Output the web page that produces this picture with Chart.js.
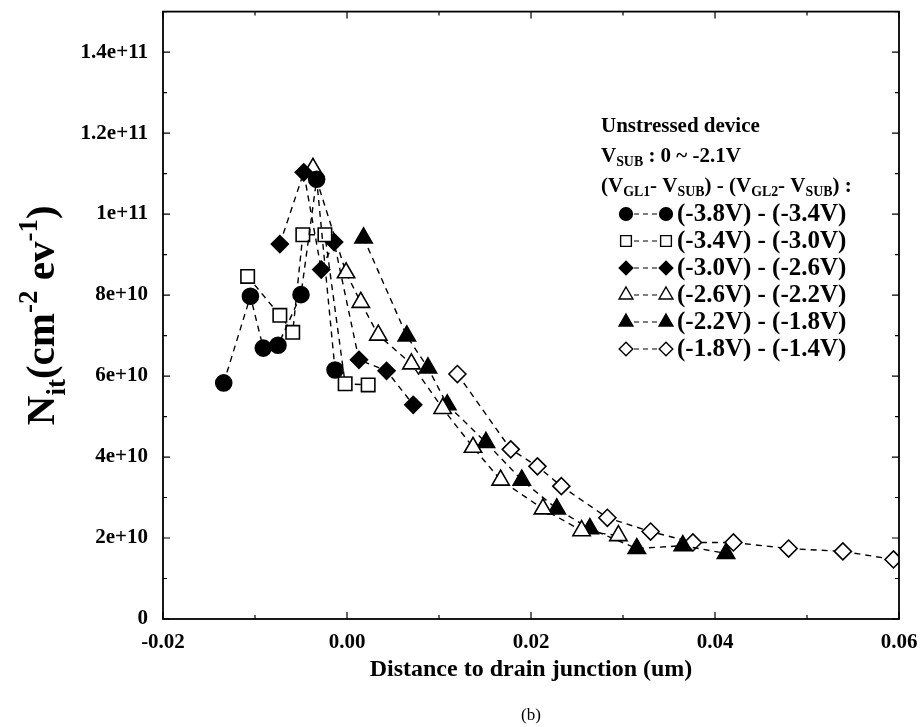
<!DOCTYPE html>
<html>
<head>
<meta charset="utf-8">
<title>Interface trap density vs distance</title>
<script src="https://cdn.jsdelivr.net/npm/chart.js@4.4.1/dist/chart.umd.min.js"></script>
<style>
  html, body { margin: 0; padding: 0; background: #fff; }
  #wrap { width: 921px; height: 727px; }
</style>
</head>
<body>
<div id="wrap"><canvas id="nitChart" width="921" height="727"></canvas></div>
<script>
// Nit profiles along the channel, one series per gate-bias pair
const SERIES_LABELS = [
  "(-3.8V) - (-3.4V)",
  "(-3.4V) - (-3.0V)",
  "(-3.0V) - (-2.6V)",
  "(-2.6V) - (-2.2V)",
  "(-2.2V) - (-1.8V)",
  "(-1.8V) - (-1.4V)",
];

const S1_X = [-0.0134, -0.0105, -0.0091, -0.0075, -0.0050, -0.0033, -0.0013];
const S1_Y = [5.83e10, 7.97e10, 6.69e10, 6.76e10, 8.01e10, 10.86e10, 6.15e10];

const S2_X = [-0.0108, -0.0073, -0.0059, -0.0048, -0.0024, -0.0002, 0.0023];
const S2_Y = [8.46e10, 7.50e10, 7.08e10, 9.49e10, 9.49e10, 5.81e10, 5.78e10];

const S3_X = [-0.0073, -0.0047, -0.0028, -0.0014, 0.0013, 0.0043, 0.0072];
const S3_Y = [9.26e10, 11.03e10, 8.63e10, 9.31e10, 6.40e10, 6.13e10, 5.29e10];

const S4_X = [-0.0037, -0.0001, 0.0015, 0.0034, 0.0070, 0.0104, 0.0137, 0.0167, 0.0213, 0.0255, 0.0295];
const S4_Y = [11.13e10, 8.55e10, 7.82e10, 7.01e10, 6.30e10, 5.20e10, 4.24e10, 3.43e10, 2.72e10, 2.18e10, 2.06e10];

const S5_X = [0.0018, 0.0065, 0.0088, 0.0109, 0.0151, 0.0190, 0.0228, 0.0264, 0.0315, 0.0365, 0.0412];
const S5_Y = [9.41e10, 6.99e10, 6.20e10, 5.29e10, 4.36e10, 3.43e10, 2.72e10, 2.23e10, 1.74e10, 1.81e10, 1.62e10];

const S6_X = [0.0120, 0.0178, 0.0207, 0.0233, 0.0283, 0.0330, 0.0376, 0.0420, 0.0480, 0.0539, 0.0594];
const S6_Y = [6.05e10, 4.19e10, 3.77e10, 3.28e10, 2.50e10, 2.16e10, 1.89e10, 1.89e10, 1.74e10, 1.67e10, 1.47e10];

const X_TICKS = [-0.02, 0, 0.02, 0.04, 0.06];
const X_TICK_LABELS = ["-0.02", "0.00", "0.02", "0.04", "0.06"];
const Y_TICKS = [0, 2e10, 4e10, 6e10, 8e10, 1e11, 1.2e11, 1.4e11];
const Y_TICK_LABELS = ["0", "2e+10", "4e+10", "6e+10", "8e+10", "1e+11", "1.2e+11", "1.4e+11"];

const SERIF = "'Liberation Serif', 'Times New Roman', serif";

// marker look for each series: [pointStyle, filled, radius]
const MARKERS = [
  ["circle", true, 8],
  ["rect", false, 9.5],
  ["rectRot", true, 8.5],
  ["triangle", false, 10],
  ["triangle", true, 10],
  ["rectRot", false, 8.5],
];

const SERIES = [[S1_X, S1_Y], [S2_X, S2_Y], [S3_X, S3_Y], [S4_X, S4_Y], [S5_X, S5_Y], [S6_X, S6_Y]];

const datasets = SERIES.map(([xs, ys], i) => {
  const [style, filled, r] = MARKERS[i];
  return {
    label: SERIES_LABELS[i],
    data: xs.map((x, k) => ({ x, y: ys[k] })),
    showLine: true,
    borderColor: "#000",
    borderWidth: 1.4,
    borderDash: [6, 5],
    pointStyle: style,
    pointRadius: r,
    pointHoverRadius: r,
    pointBackgroundColor: filled ? "#000" : "#fff",
    pointBorderColor: "#000",
    pointBorderWidth: 1.6,
  };
});

// draws text with sub/sup runs: parts = [[text, kind], ...]
function richText(ctx, parts, x, y, size, measureOnly) {
  let cx = x;
  for (const [txt, kind] of parts) {
    const s = kind ? size * 0.66 : size;
    ctx.font = `bold ${s}px ${SERIF}`;
    const dy = kind === "sub" ? size * 0.28 : kind === "sup" ? -size * 0.42 : 0;
    if (!measureOnly) ctx.fillText(txt, cx, y + dy);
    cx += ctx.measureText(txt).width;
  }
  return cx - x;
}

// no auto padding: keep the plot box at fixed pixels
function noPad(s) {
  s.paddingTop = 0;
  s.paddingBottom = 0;
  s.paddingLeft = 0;
  s.paddingRight = 0;
}

const frameAndLabels = {
  id: "frameAndLabels",
  afterDraw(chart) {
    const { ctx, chartArea: a, scales } = chart;
    const xs = scales.x, ys = scales.y;
    ctx.save();
    ctx.strokeStyle = "#000";
    ctx.fillStyle = "#000";

    // box
    ctx.lineWidth = 1.8;
    ctx.strokeRect(a.left, a.top, a.right - a.left, a.bottom - a.top);

    // inward ticks on all four sides, major at labels, minor halfway
    ctx.lineWidth = 1.2;
    ctx.beginPath();
    for (let k = 0; k <= 8; k++) {
      const px = xs.getPixelForValue(-0.02 + k * 0.01);
      const len = k % 2 === 0 ? 7 : 4;
      ctx.moveTo(px, a.bottom); ctx.lineTo(px, a.bottom - len);
      ctx.moveTo(px, a.top); ctx.lineTo(px, a.top + len);
    }
    for (let k = 0; k <= 15; k++) {
      const py = ys.getPixelForValue(k * 1e10);
      const len = k % 2 === 0 ? 7 : 4;
      ctx.moveTo(a.left, py); ctx.lineTo(a.left + len, py);
      ctx.moveTo(a.right, py); ctx.lineTo(a.right - len, py);
    }
    ctx.stroke();

    // x axis title and panel tag
    ctx.textAlign = "center";
    ctx.textBaseline = "middle";
    ctx.font = `bold 24px ${SERIF}`;
    ctx.fillText("Distance to drain junction (um)", (a.left + a.right) / 2, 670);
    ctx.font = `17px ${SERIF}`;
    ctx.fillText("(b)", (a.left + a.right) / 2, 716);

    // y axis title
    ctx.save();
    ctx.translate(54, (a.top + a.bottom) / 2);
    ctx.rotate(-Math.PI / 2);
    ctx.textAlign = "left";
    ctx.textBaseline = "alphabetic";
    const yParts = [["N", ""], ["it", "sub"], ["(cm", ""], ["-2", "sup"], [" ev", ""], ["-1", "sup"], [")", ""]];
    const yw = richText(ctx, yParts, 0, 0, 41, true);
    richText(ctx, yParts, -yw / 2, 0, 41);
    ctx.restore();

    // annotation block and legend
    ctx.textAlign = "left";
    ctx.textBaseline = "middle";
    const fs = 21;
    const hx = 601;
    ctx.font = `bold ${fs}px ${SERIF}`;
    ctx.fillText("Unstressed device", hx, 127);
    richText(ctx, [["V", ""], ["SUB", "sub"], [" : 0 ~ -2.1V", ""]], hx, 157, fs);
    richText(ctx, [["(V", ""], ["GL1", "sub"], ["- V", ""], ["SUB", "sub"], [") - (V", ""],
      ["GL2", "sub"], ["- V", ""], ["SUB", "sub"], [") :", ""]], hx, 187, fs);

    const h = Chart.helpers;
    SERIES_LABELS.forEach((lab, i) => {
      const ly = 214 + i * 27;
      const [style, filled, r] = MARKERS[i];
      const opt = { pointStyle: style, radius: r * 0.8, rotation: 0, borderWidth: 1.4 };
      ctx.setLineDash([5, 4]);
      ctx.lineWidth = 1.2;
      ctx.strokeStyle = "#000";
      ctx.beginPath();
      ctx.moveTo(634, ly); ctx.lineTo(658, ly);
      ctx.stroke();
      ctx.setLineDash([]);
      for (const mx of [626, 666]) {
        ctx.fillStyle = filled ? "#000" : "#fff";
        ctx.lineWidth = 1.4;
        h.drawPoint(ctx, opt, mx, ly);
      }
      ctx.fillStyle = "#000";
      ctx.font = `bold 25px ${SERIF}`;
      ctx.fillText(lab, 677, ly + 1);
    });
    ctx.restore();
  },
};

new Chart(document.getElementById("nitChart"), {
  type: "scatter",
  data: { datasets },
  options: {
    responsive: false,
    animation: false,
    devicePixelRatio: 1,
    layout: { padding: { top: 7, right: 22, left: 0, bottom: 0 } },
    plugins: {
      legend: { display: false },
      tooltip: { enabled: false },
    },
    scales: {
      x: {
        type: "linear",
        min: -0.02,
        max: 0.06,
        afterBuildTicks: (s) => { s.ticks = X_TICKS.map((v) => ({ value: v })); },
        afterFit: (s) => { s.height = 108; noPad(s); },
        ticks: {
          color: "#000",
          padding: 11,
          maxRotation: 0,
          font: { family: SERIF, size: 21, weight: "bold" },
          callback: (v) => X_TICK_LABELS[X_TICKS.findIndex((t) => Math.abs(t - v) < 1e-9)] ?? "",
        },
        grid: { display: false, drawTicks: false },
        border: { display: false },
      },
      y: {
        type: "linear",
        min: 0,
        max: 1.5e11,
        afterBuildTicks: (s) => { s.ticks = Y_TICKS.map((v) => ({ value: v })); },
        afterFit: (s) => { s.width = 163; noPad(s); },
        ticks: {
          color: "#000",
          padding: 15,
          font: { family: SERIF, size: 21, weight: "bold" },
          callback: (v) => Y_TICK_LABELS[Y_TICKS.indexOf(v)] ?? "",
        },
        grid: { display: false, drawTicks: false },
        border: { display: false },
      },
    },
  },
  plugins: [frameAndLabels],
});
</script>
</body>
</html>
